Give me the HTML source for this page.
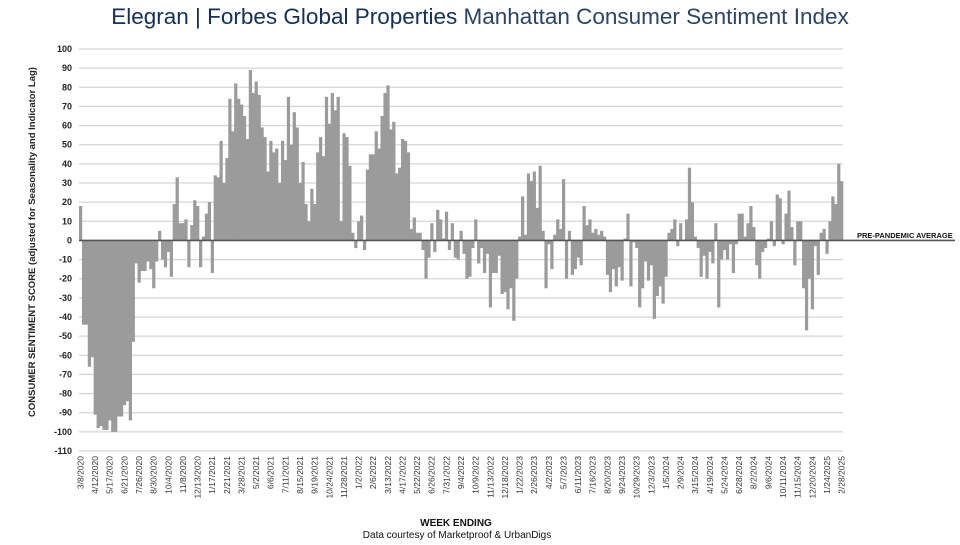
<!DOCTYPE html>
<html><head><meta charset="utf-8"><style>
body{margin:0;background:#fff;width:960px;height:540px;overflow:hidden;font-family:"Liberation Sans",Arial,sans-serif}
</style></head><body>
<svg id="chart" width="960" height="540" xmlns="http://www.w3.org/2000/svg">
<text x="480" y="24" text-anchor="middle" font-size="22.5" fill="#1c3557" font-family="Liberation Sans, sans-serif"><tspan fill="#14305a">Elegran | Forbes Global Properties</tspan><tspan fill="#2a4468"> Manhattan Consumer Sentiment Index</tspan></text>
<g id="grid"></g>
<g id="bars"></g>
<g id="yaxis"></g>
<g id="xaxis"></g>
<text transform="translate(35,242) rotate(-90)" text-anchor="middle" font-size="9.5" font-weight="bold" fill="#222">CONSUMER SENTIMENT SCORE (adjusted for Seasonality and Indicator Lag)</text>
<text x="456" y="526" text-anchor="middle" font-size="10" font-weight="bold" fill="#111">WEEK ENDING</text>
<text x="457" y="538" text-anchor="middle" font-size="10" fill="#111">Data courtesy of Marketproof &amp; UrbanDigs</text>
<text x="857" y="238" font-size="7.5" font-weight="bold" fill="#111">PRE-PANDEMIC  AVERAGE</text>
</svg>
<script>
const values = [18,-44,-44,-66,-61,-91,-98,-97,-99,-99,-94,-100,-100,-92,-92,-86,-84,-94,-53,-12,-22,-16,-16,-11,-15,-25,-11,5,-10,-14,-6,-19,19,33,9,9,11,-14,8,21,18,-14,2,14,20,
-17,34,33,52,30,43,74,57,82,74,71,65,53,89,77,83,76,59,54,36,52,46,48,30,52,42,75,50,67,59,30,41,19,10,27,19,46,54,44,75,61,77,68,
75,10,56,54,39,4,-4,10,13,-5,37,45,45,57,48,65,77,81,58,62,35,38,53,52,46,6,12,4,4,-5,-20,-9,9,-6,16,11,1,15,-5,9,-9,-10,5,-7,-20,
-19,-4,11,-12,-4,-17,-7,-35,-17,-17,-8,-28,-27,-36,-25,-42,-20,2,23,3,35,31,36,17,39,5,-25,-2,-15,3,11,6,32,-20,5,-18,-15,-9,-13,18,8,11,4,6,
3,5,2,-18,-27,-15,-24,-14,-21,1,14,-24,-1,-4,-35,-25,-11,-21,-13,-41,-29,-24,-33,-19,4,6,11,-3,9,0,11,38,20,2,-4,-19,-8,-20,-6,-12,9,-35,-10,-5,-10,
-2,-17,-2,14,14,2,9,18,7,-13,-20,-6,-4,1,10,-3,24,22,-2,14,26,7,-13,10,10,-25,-47,-20,-36,-3,-18,4,6,-7,10,23,19,40,31];
const weekLabels = ["3/8/2020","4/12/2020","5/17/2020","6/21/2020","7/26/2020","8/30/2020","10/4/2020","11/8/2020","12/13/2020","1/17/2021","2/21/2021","3/28/2021","5/2/2021","6/6/2021","7/11/2021","8/15/2021","9/19/2021","10/24/2021","11/28/2021","1/2/2022","2/6/2022","3/13/2022","4/17/2022","5/22/2022","6/26/2022","7/31/2022","9/4/2022","10/9/2022","11/13/2022","12/18/2022","1/22/2023","2/26/2023","4/2/2023","5/7/2023","6/11/2023","7/16/2023","8/20/2023","9/24/2023","10/29/2023","12/3/2023","1/5/2024","2/9/2024","3/15/2024","4/19/2024","5/24/2024","6/28/2024","8/2/2024","9/6/2024","10/11/2024","11/15/2024","12/20/2024","1/24/2025","2/28/2025"];
const yTicks = [100,90,80,70,60,50,40,30,20,10,0,-10,-20,-30,-40,-50,-60,-70,-80,-90,-100,-110];
const labelEvery = 5;

const NS="http://www.w3.org/2000/svg";
const X0=79, X1=843, Y100=49, YM110=451;
const bw=(X1-X0)/261;
function y(v){return Y100+(100-v)*(YM110-Y100)/210;}
function x(i){return X0+i*bw;}
function mk(t,a,p){const e=document.createElementNS(NS,t);for(const k in a)e.setAttribute(k,a[k]);p.appendChild(e);return e;}
const grid=document.getElementById('grid'),bars=document.getElementById('bars'),ya=document.getElementById('yaxis'),xa=document.getElementById('xaxis');
yTicks.forEach(t=>{
  if(t!==0){const l=mk('line',{x1:X0,x2:X1,y1:y(t),y2:y(t),stroke:'#d6d6d6','stroke-width':1.3},grid);
  
  }
  const tx=mk('text',{x:72,y:y(t)+3,'text-anchor':'end','font-size':9,'font-weight':'bold',fill:'#222'},ya);
  tx.textContent=t;
  
  
});
values.forEach((v,i)=>{
  const y0=y(0),yv=y(v);
  const r=mk('rect',{x:x(i),y:Math.min(y0,yv),width:bw+0.3,height:Math.abs(yv-y0),fill:'#9b9b9b'},bars);
  
  
});
const zl=mk('line',{x1:X0,x2:955,y1:y(0),y2:y(0),stroke:'#555','stroke-width':1.6},grid.parentNode);


weekLabels.forEach((s,k)=>{
  const cx=x(k*labelEvery)+bw/2+3;
  const t=mk('text',{transform:`translate(${cx},456) rotate(-90)`,'text-anchor':'end','font-size':8.5,fill:'#333'},xa);
  t.textContent=s;
  
  
});
</script>
</body></html>
